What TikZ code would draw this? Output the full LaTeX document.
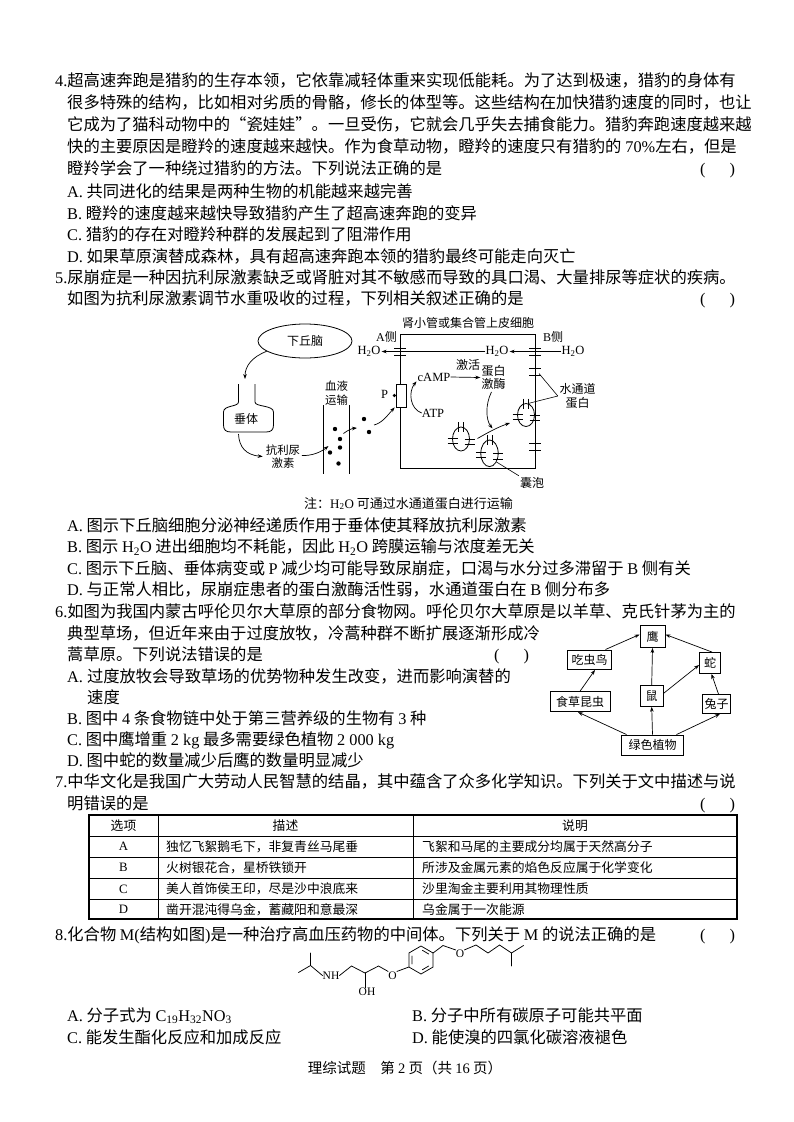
\documentclass[tikz,border=0pt]{standalone}
\usepackage{fontspec}
\setmainfont{Liberation Serif}
\newfontfamily\cjk{Noto Sans CJK SC}
\usetikzlibrary{arrows.meta,shapes.geometric}
\XeTeXlinebreaklocale "zh"
\XeTeXlinebreakskip=0pt plus 4pt minus 1pt
\newcommand\LT[1]{{\rmfamily #1}}
\newcommand\HHO{{\rmfamily H\textsubscript{2}O}}
\newcommand\jl[2]{\hbox to #1{#2}}
\newcommand\mchan[2]{\draw[chl] ({#1-6},{#2-3.6}) -- ({#1+6},{#2-3.6}) ({#1-6},{#2+3.6}) -- ({#1+6},{#2+3.6});}
\newcommand\hchan[2]{\draw[chl] ({#1-5},{#2-2.6}) -- ({#1+5},{#2-2.6}) ({#1-5},{#2+2.6}) -- ({#1+5},{#2+2.6});}
\newcommand\vchan[2]{\draw[chl] ({#1-2.4},{#2-5}) -- ({#1-2.4},{#2+5}) ({#1+2.4},{#2-5}) -- ({#1+2.4},{#2+5});}
\newcommand\vesicle[4]{\draw[ml] (#1,#2) ellipse [x radius=#3pt, y radius=#4pt];\vchan{#1}{#2-#4}\hchan{#1-#3}{#2+1.5}\hchan{#1+#3}{#2+3}}
\tikzset{
  every node/.style={inner sep=0pt},
  body/.style={anchor=base west, font=\cjk\fontsize{16.3}{18}\selectfont},
  lab/.style={font=\cjk\fontsize{12}{13.3}\selectfont, align=center},
  slab/.style={font=\cjk\fontsize{11.4}{13.3}\selectfont, align=center},
  latlab/.style={font=\rmfamily\fontsize{12.5}{13}\selectfont},
  arr/.style={-{Stealth[length=5pt,width=3.6pt]}, line width=0.7pt},
  ml/.style={line width=0.8pt},
  chl/.style={line width=0.75pt},
  fwbox/.style={draw, line width=0.9pt, font=\cjk\fontsize{12}{13}\selectfont},
  cell/.style={font=\cjk\fontsize{12.8}{14}\selectfont},
  bond/.style={line width=0.75pt, line cap=round, line join=round},
  atom/.style={font=\rmfamily\fontsize{11.5}{12}\selectfont},
}
\begin{document}
\begin{tikzpicture}[x=1pt,y=-1pt]
\useasboundingbox (0,0) rectangle (794,1122);
\fill[white] (0,0) rectangle (794,1122);

% ---------------- Question 4
\node[body] (q4a1) at (55,86.2) {\jl{682pt}{\LT{4.}超高速奔跑是猎豹的生存本领，它依靠减轻体重来实现低能耗。为了达到极速，猎豹的身体有}};
\node[body] (q4a2) at (67,108.2) {\jl{670pt}{很多特殊的结构，比如相对劣质的骨骼，修长的体型等。这些结构在加快猎豹速度的同时，也让}};
\node[body] (q4a3) at (67,130.2) {\jl{670pt}{它成为了猫科动物中的“瓷娃娃”。一旦受伤，它就会几乎失去捕食能力。猎豹奔跑速度越来越}};
\node[body] (q4a4) at (67,152.2) {\jl{670pt}{快的主要原因是瞪羚的速度越来越快。作为食草动物，瞪羚的速度只有猎豹的\hspace{4pt}\LT{70\%}左右，但是}};
\node[body] (q4a5) at (67,174.2) {瞪羚学会了一种绕过猎豹的方法。下列说法正确的是};
\node[body] (q4p) at (700,174.2) {\LT{(\hspace{24pt})}};
\node[body] (q4oA) at (67,197.2) {\LT{A.} 共同进化的结果是两种生物的机能越来越完善};
\node[body] (q4oB) at (67,219.2) {\LT{B.} 瞪羚的速度越来越快导致猎豹产生了超高速奔跑的变异};
\node[body] (q4oC) at (67,240.7) {\LT{C.} 猎豹的存在对瞪羚种群的发展起到了阻滞作用};
\node[body] (q4oD) at (67,262.2) {\LT{D.} 如果草原演替成森林，具有超高速奔跑本领的猎豹最终可能走向灭亡};

% ---------------- Question 5
\node[body] (q5a1) at (55,283.7) {\jl{682pt}{\LT{5.}尿崩症是一种因抗利尿激素缺乏或肾脏对其不敏感而导致的具口渴、大量排尿等症状的疾病。}};
\node[body] (q5a2) at (67,304.7) {如图为抗利尿激素调节水重吸收的过程，下列相关叙述正确的是};
\node[body] (q5p) at (700,304.7) {\LT{(\hspace{24pt})}};

% diagram: left part
\node[draw, ellipse, minimum width=94pt, minimum height=34pt, line width=0.8pt, lab] (hyp) at (305,341) {下丘脑};
\draw[ml] (238.5,384) -- (238.5,402) .. controls (238.5,407) and (223.5,405) .. (223.5,412) -- (223.5,425) .. controls (223.5,430) and (226,432) .. (231,432) -- (266,432) .. controls (271,432) and (273.5,430) .. (273.5,425) -- (273.5,412) .. controls (273.5,405) and (255,407) .. (255,402) -- (255,384);
\node[lab] (pit) at (246,419) {垂体};
\coordinate (pittop) at (245,379);
\coordinate (pitbot) at (238.5,434);
\draw[arr] (hyp.195) .. controls (252,357) and (245,366) .. (pittop);
\node[slab] (adh) at (283,456.5) {抗利尿\\激素};
\draw[arr] (pitbot) .. controls (239,447) and (246,455) .. ([xshift=-3pt]adh.west);
\node[slab] (blood) at (336.5,393.3) {血液\\运输};
\draw[ml] (323.5,405) -- (323.5,474);
\draw[ml] (349,405) -- (349,474);
\foreach \p in {(335,429),(340,439),(340,447.5),(330,452.5),(338.5,463.5),(364,419),(369,432)} \fill \p circle[radius=2.2pt];
\coordinate (invessel) at (328.5,446);
\draw[arr] ([xshift=1.5pt,yshift=1pt]adh.east) .. controls (312,456) and (321,452) .. (invessel);
\coordinate (cross1) at (343.5,433.5);
\coordinate (cross2) at (357,428);
\draw[arr] (cross1) .. controls (348,430) and (352,428.5) .. (cross2);
\coordinate (outdot) at (374,425);

% cell
\node[draw, line width=0.9pt, minimum width=135pt, minimum height=134pt] (cell) at (467.5,401) {};
\node[lab] (celltitle) at (468,322.5) {肾小管或集合管上皮细胞};
\node[lab] (aside) at (386.5,337) {\LT{A}侧};
\node[lab] (bside) at (553,337) {\LT{B}侧};
\node[latlab] (wl) at (369,351.5) {\HHO};
\node[latlab] (wm) at (497,351.5) {\HHO};
\node[latlab] (wr) at (573,351.5) {\HHO};
\draw[arr] (wm.west) -- ([xshift=1pt]wl.east);
\draw[arr] (wr.west) -- ([xshift=1pt]wm.east);
\mchan{400}{351.5}
\mchan{535}{351.5}
\mchan{535}{371.5}
\mchan{535}{447}

% receptor
\node[draw, fill=white, minimum width=10pt, minimum height=23pt, line width=0.8pt] (rec) at (401,395.5) {};
\node[latlab] (plab) at (384.5,394.5) {P};
\fill ([xshift=-1.2pt]rec.west) circle[radius=1.8pt];
\draw[arr] (outdot) .. controls (382,423) and (387,416) .. ([xshift=-1pt]rec.south west);
\node[latlab] (camp) at (434,377) {cAMP};
\node[latlab] (atp) at (433,413) {ATP};
\draw[arr] (atp.west) .. controls (410,409) and (408,392) .. ([xshift=-1pt]camp.south west);
\node[lab] (jihuo) at (468,364.5) {激活};
\node[lab] (kin) at (493.5,377.5) {蛋白\\激酶};
\draw[arr] (camp.east) -- ([xshift=-1pt]kin.west);
\coordinate (kinend) at (492.5,428.5);
\draw[arr] ([xshift=-2pt,yshift=-2pt]kin.south) .. controls (485,405) and (486,420) .. (kinend);

% vesicles
\vesicle{461}{439}{8.5}{12}
\vesicle{489.5}{453.3}{8.7}{13.3}
\vesicle{526}{415}{8.5}{11.5}
\coordinate (v1out) at (477.5,438.5);
\coordinate (v3in) at (510,423);
\draw[arr] (v1out) .. controls (487,433) and (498,427) .. (v3in);
\node[lab] (aqp) at (577.5,396) {水通道\\蛋白};
\coordinate (aqp1) at (539,373.5);
\coordinate (aqp2) at (528,403.5);
\draw[line width=0.6pt] ([xshift=-1.5pt]aqp.west) -- (aqp1);
\draw[line width=0.6pt] ([xshift=-1.5pt]aqp.west) -- (aqp2);
\node[lab] (nang) at (532,482.5) {囊泡};
\coordinate (v2edge) at (496.5,462);
\draw[line width=0.6pt] ([xshift=-1pt,yshift=1pt]nang.north west) -- (v2edge);
\node[font=\cjk\fontsize{13}{14}\selectfont] (note) at (408.5,503.5) {注：\HHO{} 可通过水通道蛋白进行运输};

\node[body] (q5oA) at (67,531.2) {\LT{A.} 图示下丘脑细胞分泌神经递质作用于垂体使其释放抗利尿激素};
\node[body] (q5oB) at (67,552.7) {\LT{B.} 图示 \HHO{} 进出细胞均不耗能，因此 \HHO{} 跨膜运输与浓度差无关};
\node[body] (q5oC) at (67,574.2) {\LT{C.} 图示下丘脑、垂体病变或 \LT{P} 减少均可能导致尿崩症，口渴与水分过多滞留于 \LT{B} 侧有关};
\node[body] (q5oD) at (67,595.7) {\LT{D.} 与正常人相比，尿崩症患者的蛋白激酶活性弱，水通道蛋白在 \LT{B} 侧分布多};

% ---------------- Question 6
\node[body] (q6a1) at (55,617.7) {\jl{682pt}{\LT{6.}如图为我国内蒙古呼伦贝尔大草原的部分食物网。呼伦贝尔大草原是以羊草、克氏针茅为主的}};
\node[body] (q6a2) at (67,639.2) {\jl{464pt}{典型草场，但近年来由于过度放牧，冷蒿种群不断扩展逐渐形成冷}};
\node[body] (q6a3) at (67,660.7) {蒿草原。下列说法错误的是};
\node[body] (q6p) at (494,660.7) {\LT{(\hspace{24pt})}};
\node[body] (q6oA) at (67,682.2) {\jl{464pt}{\LT{A.}\hspace{4pt}过度放牧会导致草场的优势物种发生改变，进而影响演替的}};
\node[body] (q6oA2) at (87,703.7) {速度};
\node[body] (q6oB) at (67,724.7) {\LT{B.} 图中 \LT{4} 条食物链中处于第三营养级的生物有 \LT{3} 种};
\node[body] (q6oC) at (67,745.7) {\LT{C.} 图中鹰增重 \LT{2 kg} 最多需要绿色植物 \LT{2 000 kg}};
\node[body] (q6oD) at (67,766.7) {\LT{D.} 图中蛇的数量减少后鹰的数量明显减少};

% food web
\node[fwbox, minimum width=25pt, minimum height=22pt] (eagle) at (652.5,636.5) {鹰};
\node[fwbox, minimum width=44pt, minimum height=19.5pt] (bird) at (589.5,659.7) {吃虫鸟};
\node[fwbox, minimum width=21pt, minimum height=21pt] (snake) at (710,663) {蛇};
\node[fwbox, minimum width=23pt, minimum height=21pt] (mouse) at (651.7,695.8) {鼠};
\node[fwbox, minimum width=60pt, minimum height=20pt] (insect) at (580,701.7) {食草昆虫};
\node[fwbox, minimum width=28pt, minimum height=19pt] (rabbit) at (716.5,704) {兔子};
\node[fwbox, minimum width=62pt, minimum height=20pt] (plant) at (652.5,745) {绿色植物};
\draw[arr] ([xshift=-26pt]plant.north) -- ([xshift=-2pt]insect.south);
\draw[arr] (plant.north) -- (mouse.south);
\draw[arr] ([xshift=24pt]plant.north) -- ([xshift=3.5pt]rabbit.south);
\draw[arr] (insect.north) -- ([xshift=5.5pt]bird.south);
\draw[arr] ([yshift=2.5pt]mouse.east) -- ([yshift=-2pt]snake.west);
\draw[arr] ([xshift=2pt]rabbit.north) -- ([xshift=1.5pt]snake.south);
\draw[arr] (mouse.north) -- (eagle.south);
\draw[arr] ([xshift=16pt]bird.north) -- ([yshift=2pt]eagle.west);
\draw[arr] ([xshift=2pt]snake.north) -- ([yshift=2pt]eagle.east);

% ---------------- Question 7
\node[body] (q7a1) at (55,787.2) {\jl{682pt}{\LT{7.}中华文化是我国广大劳动人民智慧的结晶，其中蕴含了众多化学知识。下列关于文中描述与说}};
\node[body] (q7a2) at (67,809.2) {明错误的是};
\node[body] (q7p) at (700,809.2) {\LT{(\hspace{24pt})}};

\draw[line width=1.1pt] (89,815) rectangle (737,919);
\draw[line width=0.6pt] (89,836) -- (737,836) (89,857) -- (737,857) (89,878.3) -- (737,878.3) (89,899.5) -- (737,899.5);
\draw[line width=0.6pt] (158,815) -- (158,919) (413,815) -- (413,919);
\node[cell] (th1) at (123.5,825.5) {选项};
\node[cell] (th2) at (285.5,825.5) {描述};
\node[cell] (th3) at (575,825.5) {说明};
\node[cell] (tA) at (123.5,846.5) {\LT{A}};
\node[cell, anchor=west] (tAd) at (166,846.5) {独忆飞絮鹅毛下，非复青丝马尾垂};
\node[cell, anchor=west] (tAe) at (422,846.5) {飞絮和马尾的主要成分均属于天然高分子};
\node[cell] (tB) at (123.5,867.7) {\LT{B}};
\node[cell, anchor=west] (tBd) at (166,867.7) {火树银花合，星桥铁锁开};
\node[cell, anchor=west] (tBe) at (422,867.7) {所涉及金属元素的焰色反应属于化学变化};
\node[cell] (tC) at (123.5,889) {\LT{C}};
\node[cell, anchor=west] (tCd) at (166,889) {美人首饰侯王印，尽是沙中浪底来};
\node[cell, anchor=west] (tCe) at (422,889) {沙里淘金主要利用其物理性质};
\node[cell] (tD) at (123.5,909.3) {\LT{D}};
\node[cell, anchor=west] (tDd) at (166,909.3) {凿开混沌得乌金，蓄藏阳和意最深};
\node[cell, anchor=west] (tDe) at (422,909.3) {乌金属于一次能源};

% ---------------- Question 8
\node[body] (q8a1) at (55,940.2) {\LT{8.}化合物 \LT{M(}结构如图\LT{)}是一种治疗高血压药物的中间体。下列关于 \LT{M} 的说法正确的是};
\node[body] (q8p) at (700,940.2) {\LT{(\hspace{24pt})}};

% structure
\node[atom] (nh) at (331,975.5) {NH};
\node[atom] (oh) at (367,992) {OH};
\node[atom] (o1) at (392.5,975.5) {O};
\node[atom] (o2) at (460,954) {O};
\draw[bond] (298.5,972.5) -- (310.5,965.5) -- (310.5,953);
\draw[bond] (310.5,965.5) -- (nh.west);
\draw[bond] (nh.east) -- (351.5,966) -- (365,973) -- (378.5,966) -- (o1.north west);
\draw[bond] (365,973) -- (oh.north -| 365,973);
\draw[bond] (o1.north east) -- (408.9,967) -- (408.9,953) -- (421,946) -- (433.1,953) -- (433.1,967) -- (421,974) -- (408.9,967);
\draw[bond] (411.9,956) -- (411.9,964) (422.4,950.3) -- (428.7,954) (428.7,966) -- (422.4,969.7);
\draw[bond] (433.1,953) -- (443,945.5) -- (o2.north west);
\draw[bond] (o2.north east) -- (476,945) -- (488,953) -- (499.5,945) -- (511.5,953) -- (523.5,945.5);
\draw[bond] (511.5,953) -- (511.5,966);

\node[body] (q8oA) at (67,1021.2) {\LT{A.} 分子式为 \LT{C\textsubscript{19}H\textsubscript{32}NO\textsubscript{3}}};
\node[body] (q8oB) at (412,1021.2) {\LT{B.} 分子中所有碳原子可能共平面};
\node[body] (q8oC) at (67,1043.5) {\LT{C.} 能发生酯化反应和加成反应};
\node[body] (q8oD) at (412,1043.5) {\LT{D.} 能使溴的四氯化碳溶液褪色};

% footer
\node[anchor=base, font=\cjk\fontsize{14.5}{15}\selectfont] (footer) at (405,1073.8) {理综试题\quad 第 \LT{2} 页（共 \LT{16} 页）};
\end{tikzpicture}
\end{document}
